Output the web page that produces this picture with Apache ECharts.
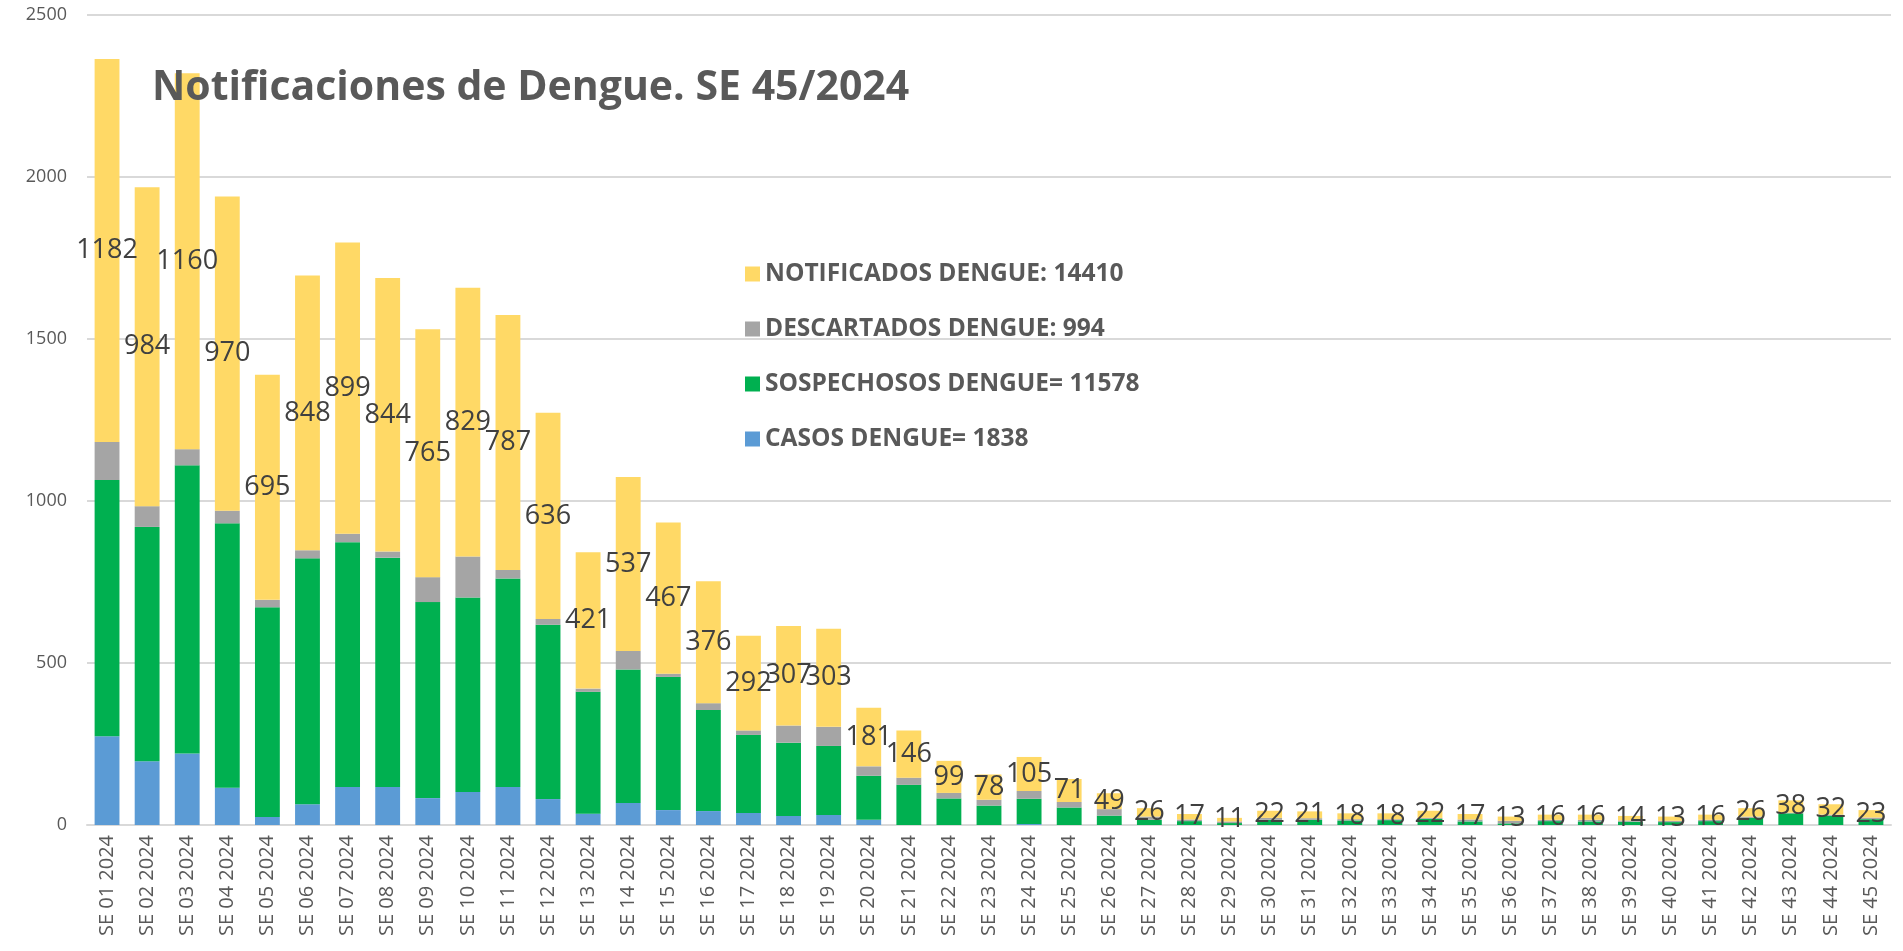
<!DOCTYPE html>
<html>
<head>
<meta charset="utf-8">
<title>Notificaciones de Dengue</title>
<script src="https://cdn.jsdelivr.net/npm/echarts@6/dist/echarts.min.js"></script>
<style>
  html, body { margin: 0; padding: 0; background: #fff; }
  #main { width: 1903px; height: 951px; }
</style>
</head>
<body>
<div id="main"></div>
<script>
// semanas epidemiologicas
const semanas = []
for (let i = 1; i <= 45; i++) {
  semanas.push('SE ' + String(i).padStart(2, '0') + ' 2024')
}

// valores
const casos = [274, 197, 221, 115, 25, 64, 117, 117, 83, 102, 117, 80, 35, 68, 46,
  43, 37, 28, 31, 16, 0, 0, 0, 3, 0, 0, 0, 0, 0, 0, 0, 0, 0, 0, 0, 0, 0, 0, 0, 0, 0, 0, 0, 0, 0]
const sospechosos = [791, 723, 889, 816, 647, 759, 756, 708, 605, 600, 644, 538, 376, 412, 411,
  312, 241, 226, 213, 136, 124, 82, 60, 78, 54, 29, 16, 12, 6, 16, 16, 14, 15, 19, 11, 5, 12, 11, 10, 9, 12, 22, 36, 28, 18]
const descartados = [117, 64, 50, 39, 23, 25, 26, 19, 77, 127, 26, 18, 10, 57, 10,
  21, 14, 53, 59, 29, 22, 17, 18, 24, 17, 20, 10, 5, 5, 6, 5, 4, 3, 3, 6, 8, 4, 5, 4, 4, 4, 4, 2, 4, 5]
const notificados = [1182, 984, 1160, 970, 695, 848, 899, 844, 765, 829, 787, 636, 421, 537, 467,
  376, 292, 307, 303, 181, 146, 99, 78, 105, 71, 49, 26, 17, 11, 22, 21, 18, 18, 22, 17, 13, 16, 16, 14, 13, 16, 26, 38, 32, 23]

const yTicks = [0, 500, 1000, 1500, 2000, 2500]

const nombres = {
  casos: 'CASOS DENGUE= 1838',
  sospechosos: 'SOSPECHOSOS DENGUE= 11578',
  descartados: 'DESCARTADOS DENGUE: 994',
  notificados: 'NOTIFICADOS DENGUE: 14410'
}

const myChart = echarts.init(document.getElementById('main'))

const base = {
  type: 'bar',
  stack: 'total',
  barCategoryGap: '38%'
}

myChart.setOption({
  animation: false,
  textStyle: { fontFamily: 'Open Sans' },
  title: {
    text: 'Notificaciones de Dengue. SE 45/2024',
    left: 147,
    top: 63,
    textStyle: { fontSize: 41, fontWeight: 'bold', color: '#595959', fontFamily: 'Open Sans' }
  },
  legend: {
    orient: 'vertical',
    left: 740,
    top: 256,
    itemWidth: 15,
    itemHeight: 15,
    itemGap: 29,
    icon: 'rect',
    data: [nombres.notificados, nombres.descartados, nombres.sospechosos, nombres.casos],
    textStyle: { fontSize: 24.5, fontWeight: 'bold', color: '#595959', lineHeight: 26, padding: [0, 0, 0, 0] }
  },
  grid: { left: 87, right: 12, top: 15, bottom: 126, containLabel: false },
  xAxis: {
    type: 'category',
    data: semanas,
    axisTick: { show: false },
    axisLine: { lineStyle: { color: '#d9d9d9', width: 2 } },
    axisLabel: { rotate: 90, interval: 0, fontSize: 20, color: '#595959', margin: 10 }
  },
  yAxis: {
    type: 'value',
    min: yTicks[0],
    max: yTicks[yTicks.length - 1],
    interval: 500,
    axisLine: { show: false },
    axisTick: { show: false },
    splitLine: { lineStyle: { color: '#d9d9d9', width: 2 } },
    axisLabel: { fontSize: 18, color: '#595959', margin: 20, formatter: v => String(v) }
  },
  series: [
    Object.assign({}, base, { name: nombres.casos, data: casos, itemStyle: { color: '#5b9bd5' } }),
    Object.assign({}, base, { name: nombres.sospechosos, data: sospechosos, itemStyle: { color: '#00b050' } }),
    Object.assign({}, base, { name: nombres.descartados, data: descartados, itemStyle: { color: '#a5a5a5' } }),
    Object.assign({}, base, {
      name: nombres.notificados,
      data: notificados,
      itemStyle: { color: '#ffd966' },
      label: {
        show: true,
        position: 'inside',
        fontSize: 27,
        color: '#404040',
        fontFamily: 'Open Sans'
      }
    })
  ]
})
</script>
</body>
</html>
